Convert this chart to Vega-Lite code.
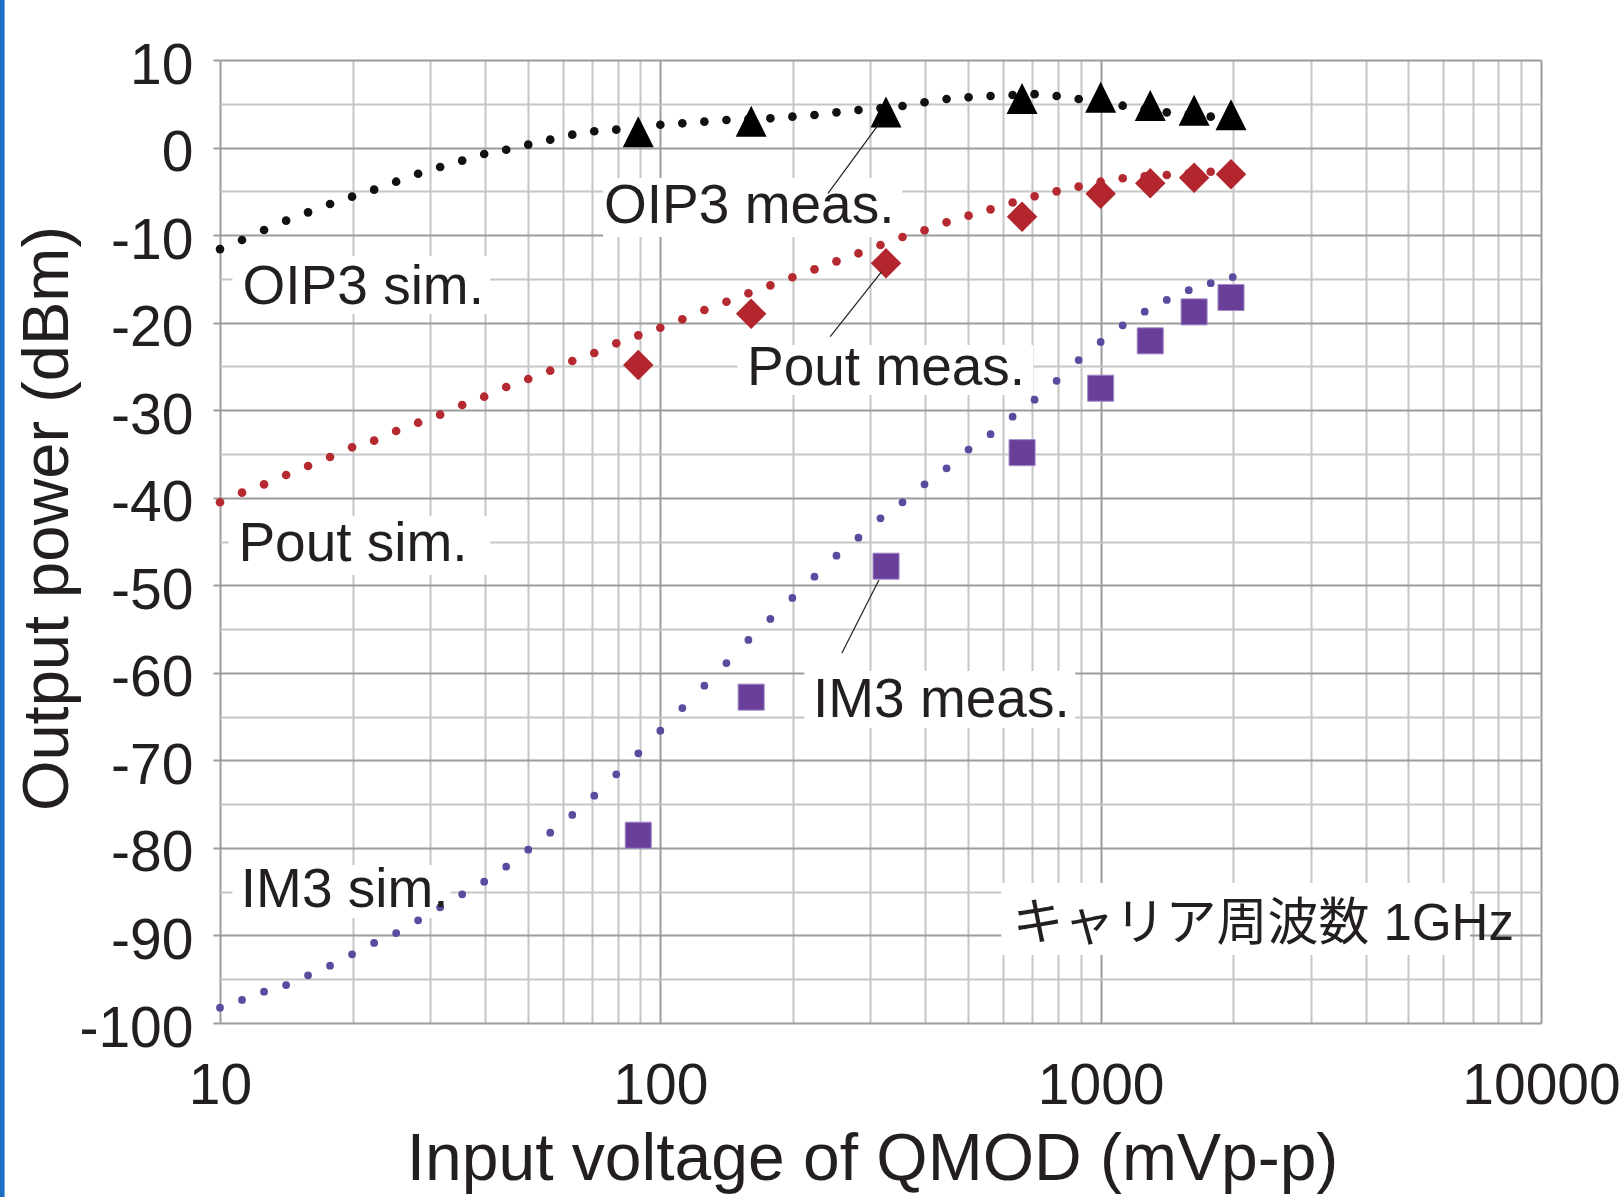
{
  "$schema": "https://vega.github.io/schema/vega-lite/v6.json",
  "width": 1321,
  "height": 963,
  "autosize": {"type": "none"},
  "padding": {"left": 220, "top": 60, "right": 83, "bottom": 174},
  "background": "white",
  "config": {
    "view": {"stroke": null},
    "axis": {"labelFont": "Liberation Sans", "titleFont": "Liberation Sans", "labelColor": "#231f20", "titleColor": "#231f20", "titleFontWeight": "normal"}
  },
  "datasets": {
    "sim": [
      {"v":10,"OIP3":-11.6,"Pout":-40.52,"IM3":-98.25},
      {"v":11.22,"OIP3":-10.56,"Pout":-39.42,"IM3":-97.37},
      {"v":12.59,"OIP3":-9.42,"Pout":-38.47,"IM3":-96.42},
      {"v":14.13,"OIP3":-8.35,"Pout":-37.4,"IM3":-95.66},
      {"v":15.85,"OIP3":-7.4,"Pout":-36.38,"IM3":-94.55},
      {"v":17.78,"OIP3":-6.45,"Pout":-35.35,"IM3":-93.45},
      {"v":19.95,"OIP3":-5.61,"Pout":-34.24,"IM3":-92.15},
      {"v":22.39,"OIP3":-4.81,"Pout":-33.48,"IM3":-90.86},
      {"v":25.12,"OIP3":-3.9,"Pout":-32.38,"IM3":-89.72},
      {"v":28.18,"OIP3":-2.99,"Pout":-31.43,"IM3":-88.27},
      {"v":31.62,"OIP3":-2.22,"Pout":-30.51,"IM3":-86.79},
      {"v":35.48,"OIP3":-1.5,"Pout":-29.41,"IM3":-85.3},
      {"v":39.81,"OIP3":-0.74,"Pout":-28.46,"IM3":-83.86},
      {"v":44.67,"OIP3":-0.25,"Pout":-27.35,"IM3":-82.15},
      {"v":50.12,"OIP3":0.33,"Pout":-26.44,"IM3":-80.2},
      {"v":56.23,"OIP3":0.9,"Pout":-25.49,"IM3":-78.26},
      {"v":63.1,"OIP3":1.47,"Pout":-24.38,"IM3":-76.24},
      {"v":70.79,"OIP3":1.86,"Pout":-23.47,"IM3":-74.04},
      {"v":79.43,"OIP3":2.04,"Pout":-22.36,"IM3":-71.59},
      {"v":89.13,"OIP3":2.3,"Pout":-21.45,"IM3":-69.19},
      {"v":100,"OIP3":2.6,"Pout":-20.58,"IM3":-66.61},
      {"v":112.2,"OIP3":2.77,"Pout":-19.62,"IM3":-64.02},
      {"v":125.9,"OIP3":2.96,"Pout":-18.56,"IM3":-61.47},
      {"v":141.3,"OIP3":3.15,"Pout":-17.61,"IM3":-58.88},
      {"v":158.5,"OIP3":3.25,"Pout":-16.65,"IM3":-56.25},
      {"v":177.8,"OIP3":3.34,"Pout":-15.74,"IM3":-53.85},
      {"v":199.5,"OIP3":3.53,"Pout":-14.82,"IM3":-51.45},
      {"v":223.9,"OIP3":3.72,"Pout":-13.91,"IM3":-49.02},
      {"v":251.2,"OIP3":4.02,"Pout":-13.0,"IM3":-46.62},
      {"v":281.8,"OIP3":4.29,"Pout":-12.08,"IM3":-44.56},
      {"v":316.2,"OIP3":4.5,"Pout":-11.13,"IM3":-42.35},
      {"v":354.8,"OIP3":4.75,"Pout":-10.22,"IM3":-40.52},
      {"v":398.1,"OIP3":5.17,"Pout":-9.46,"IM3":-38.47},
      {"v":446.7,"OIP3":5.55,"Pout":-8.54,"IM3":-36.64},
      {"v":501.2,"OIP3":5.74,"Pout":-7.78,"IM3":-34.5},
      {"v":562.3,"OIP3":5.89,"Pout":-7.06,"IM3":-32.74},
      {"v":631,"OIP3":6.0,"Pout":-6.28,"IM3":-30.75},
      {"v":707.9,"OIP3":6.1,"Pout":-5.57,"IM3":-28.8},
      {"v":794.3,"OIP3":5.89,"Pout":-5.0,"IM3":-26.64},
      {"v":891.3,"OIP3":5.55,"Pout":-4.47,"IM3":-24.27},
      {"v":1000,"OIP3":5.2,"Pout":-3.9,"IM3":-22.21},
      {"v":1122,"OIP3":4.78,"Pout":-3.51,"IM3":-20.3},
      {"v":1259,"OIP3":4.4,"Pout":-3.3,"IM3":-18.75},
      {"v":1413,"OIP3":4.02,"Pout":-3.14,"IM3":-17.41},
      {"v":1585,"OIP3":3.8,"Pout":-2.95,"IM3":-16.3},
      {"v":1778,"OIP3":3.53,"Pout":-2.76,"IM3":-15.5},
      {"v":1995,"OIP3":3.3,"Pout":-2.6,"IM3":-14.8}
    ],
    "meas": [
      {"v":89.1,"OIP3":1.8,"Pout":-24.84,"IM3":-78.55},
      {"v":160.8,"OIP3":3.0,"Pout":-18.99,"IM3":-62.78},
      {"v":325.5,"OIP3":4.06,"Pout":-13.23,"IM3":-47.82},
      {"v":663,"OIP3":5.6,"Pout":-7.9,"IM3":-34.85},
      {"v":1000,"OIP3":5.75,"Pout":-5.29,"IM3":-27.49},
      {"v":1296,"OIP3":4.8,"Pout":-4.09,"IM3":-22.08},
      {"v":1630,"OIP3":4.25,"Pout":-3.46,"IM3":-18.77},
      {"v":1977,"OIP3":3.75,"Pout":-3.06,"IM3":-17.13}
    ],
    "boxes": [
      {"v":10.67,"v2":41.1,"p":-12.39,"p2":-19.01},
      {"v":74.1,"v2":354.4,"p":-3.48,"p2":-10.22},
      {"v":10.45,"v2":41.1,"p":-42.09,"p2":-48.83},
      {"v":149.6,"v2":703,"p":-22.55,"p2":-28.27},
      {"v":212.3,"v2":875.6,"p":-59.8,"p2":-66.3},
      {"v":10.67,"v2":33.4,"p":-81.95,"p2":-88.0},
      {"v":594.8,"v2":6900,"p":-84.01,"p2":-92.23}
    ],
    "leaders": [
      {"v":240.3,"p":-5.23,"v2":314.3,"p2":2.77},
      {"v":243.1,"p":-21.6,"v2":318.1,"p2":-14.18},
      {"v":258.3,"p":-57.77,"v2":313.6,"p2":-49.4}
    ],
    "labels": [
      {"v":11.25,"p":-17.87,"label":"OIP3 sim."},
      {"v":74.5,"p":-8.58,"label":"OIP3 meas."},
      {"v":11.01,"p":-47.19,"label":"Pout sim."},
      {"v":157.3,"p":-27.12,"label":"Pout meas."},
      {"v":222.1,"p":-65.01,"label":"IM3 meas."},
      {"v":11.15,"p":-86.78,"label":"IM3 sim."}
    ],
    "note": [
      {"v":630.3,"p":-90.52,"label":"キャリア周波数 1GHz"}
    ],
    "strip": [
      {"v":3.2,"p":17,"p2":-120}
    ]
  },
  "layer": [
    {
      "data": {"name": "boxes"},
      "mark": {"type": "rect", "fill": "white", "stroke": null},
      "encoding": {
        "x": {"field": "v", "type": "quantitative", "title": "Input voltage of QMOD (mVp-p)",
          "scale": {"type": "log", "domain": [10, 10000], "nice": false},
          "axis": {
            "values": [10,20,30,40,50,60,70,80,90,100,200,300,400,500,600,700,800,900,1000,2000,3000,4000,5000,6000,7000,8000,9000,10000],
            "grid": true, "gridWidth": 2,
            "gridColor": {"condition": {"test": "indexof([10,100,1000,10000], datum.value) >= 0", "value": "#9c9c9c"}, "value": "#c6c6c6"},
            "ticks": false, "tickSize": 0, "domain": false,
            "labelExpr": "indexof([10,100,1000,10000], datum.value) >= 0 ? '' + datum.value : ''",
            "labelFontSize": 57, "labelPadding": 80, "labelBaseline": "alphabetic",
            "labelOverlap": false, "labelFlush": false,
            "titleFontSize": 66, "titleX": 652, "titleY": 156, "titleBaseline": "alphabetic", "titleAlign": "center"
          }
        },
        "x2": {"field": "v2"},
        "y": {"field": "p", "type": "quantitative", "title": "Output power (dBm)",
          "scale": {"domain": [-100, 10], "nice": false, "zero": false},
          "axis": {
            "values": [-100,-95,-90,-85,-80,-75,-70,-65,-60,-55,-50,-45,-40,-35,-30,-25,-20,-15,-10,-5,0,5,10],
            "grid": true, "gridWidth": 2,
            "gridColor": {"condition": {"test": "datum.value % 10 == 0", "value": "#9c9c9c"}, "value": "#c6c6c6"},
            "ticks": true, "tickSize": 7, "tickWidth": 2,
            "tickColor": {"condition": {"test": "datum.value % 10 == 0", "value": "#9c9c9c"}, "value": "rgba(0,0,0,0)"},
            "domain": false,
            "labelExpr": "datum.value % 10 == 0 ? '' + datum.value : ''",
            "labelFontSize": 57, "labelPadding": 20, "labelOffset": 6, "labelOverlap": false, "labelFlush": false,
            "titleFontSize": 65, "titleAngle": -90, "titleX": -153, "titleY": 458, "titleBaseline": "alphabetic", "titleAlign": "center"
          }
        },
        "y2": {"field": "p2"}
      }
    },
    {
      "data": {"name": "sim"},
      "mark": {"type": "point", "shape": "circle", "filled": true, "color": "#111111", "size": 75, "opacity": 1},
      "encoding": {
        "x": {"field": "v", "type": "quantitative", "title": "Input voltage of QMOD (mVp-p)", "scale": {"type": "log", "domain": [10, 10000], "nice": false}},
        "y": {"field": "OIP3", "type": "quantitative", "title": "Output power (dBm)", "scale": {"domain": [-100, 10], "nice": false, "zero": false}}
      }
    },
    {
      "data": {"name": "sim"},
      "mark": {"type": "point", "shape": "circle", "filled": true, "color": "#b52a30", "size": 75, "opacity": 1},
      "encoding": {
        "x": {"field": "v", "type": "quantitative", "title": "Input voltage of QMOD (mVp-p)", "scale": {"type": "log", "domain": [10, 10000], "nice": false}},
        "y": {"field": "Pout", "type": "quantitative", "title": "Output power (dBm)", "scale": {"domain": [-100, 10], "nice": false, "zero": false}}
      }
    },
    {
      "data": {"name": "sim"},
      "mark": {"type": "point", "shape": "circle", "filled": true, "color": "#574c9e", "size": 60, "opacity": 1},
      "encoding": {
        "x": {"field": "v", "type": "quantitative", "title": "Input voltage of QMOD (mVp-p)", "scale": {"type": "log", "domain": [10, 10000], "nice": false}},
        "y": {"field": "IM3", "type": "quantitative", "title": "Output power (dBm)", "scale": {"domain": [-100, 10], "nice": false, "zero": false}}
      }
    },
    {
      "data": {"name": "meas"},
      "mark": {"type": "point", "shape": "M0,-1L1,1L-1,1Z", "filled": true, "color": "#000000", "size": 961, "opacity": 1},
      "encoding": {
        "x": {"field": "v", "type": "quantitative", "title": "Input voltage of QMOD (mVp-p)", "scale": {"type": "log", "domain": [10, 10000], "nice": false}},
        "y": {"field": "OIP3", "type": "quantitative", "title": "Output power (dBm)", "scale": {"domain": [-100, 10], "nice": false, "zero": false}}
      }
    },
    {
      "data": {"name": "meas"},
      "mark": {"type": "point", "shape": "diamond", "filled": true, "color": "#b3262d", "size": 930, "opacity": 1},
      "encoding": {
        "x": {"field": "v", "type": "quantitative", "title": "Input voltage of QMOD (mVp-p)", "scale": {"type": "log", "domain": [10, 10000], "nice": false}},
        "y": {"field": "Pout", "type": "quantitative", "title": "Output power (dBm)", "scale": {"domain": [-100, 10], "nice": false, "zero": false}}
      }
    },
    {
      "data": {"name": "meas"},
      "mark": {"type": "point", "shape": "square", "filled": true, "fill": "#6a3f9a", "stroke": "#a48cc8", "strokeWidth": 1, "size": 680, "opacity": 1},
      "encoding": {
        "x": {"field": "v", "type": "quantitative", "title": "Input voltage of QMOD (mVp-p)", "scale": {"type": "log", "domain": [10, 10000], "nice": false}},
        "y": {"field": "IM3", "type": "quantitative", "title": "Output power (dBm)", "scale": {"domain": [-100, 10], "nice": false, "zero": false}}
      }
    },
    {
      "data": {"name": "leaders"},
      "mark": {"type": "rule", "color": "#231f20", "strokeWidth": 1.2},
      "encoding": {
        "x": {"field": "v", "type": "quantitative", "title": "Input voltage of QMOD (mVp-p)", "scale": {"type": "log", "domain": [10, 10000], "nice": false}},
        "x2": {"field": "v2"},
        "y": {"field": "p", "type": "quantitative", "title": "Output power (dBm)", "scale": {"domain": [-100, 10], "nice": false, "zero": false}},
        "y2": {"field": "p2"}
      }
    },
    {
      "data": {"name": "labels"},
      "mark": {"type": "text", "align": "left", "baseline": "alphabetic", "font": "Liberation Sans", "fontSize": 55, "color": "#231f20"},
      "encoding": {
        "x": {"field": "v", "type": "quantitative", "title": "Input voltage of QMOD (mVp-p)", "scale": {"type": "log", "domain": [10, 10000], "nice": false}},
        "y": {"field": "p", "type": "quantitative", "title": "Output power (dBm)", "scale": {"domain": [-100, 10], "nice": false, "zero": false}},
        "text": {"field": "label"}
      }
    },
    {
      "data": {"name": "note"},
      "mark": {"type": "text", "align": "left", "baseline": "alphabetic", "font": "Liberation Sans, Noto Sans CJK JP, sans-serif", "fontSize": 51, "color": "#231f20"},
      "encoding": {
        "x": {"field": "v", "type": "quantitative", "title": "Input voltage of QMOD (mVp-p)", "scale": {"type": "log", "domain": [10, 10000], "nice": false}},
        "y": {"field": "p", "type": "quantitative", "title": "Output power (dBm)", "scale": {"domain": [-100, 10], "nice": false, "zero": false}},
        "text": {"field": "label"}
      }
    },
    {
      "data": {"name": "strip"},
      "mark": {"type": "rule", "color": "#1b6ec2", "strokeWidth": 5},
      "encoding": {
        "x": {"field": "v", "type": "quantitative", "title": "Input voltage of QMOD (mVp-p)", "scale": {"type": "log", "domain": [10, 10000], "nice": false}},
        "y": {"field": "p", "type": "quantitative", "title": "Output power (dBm)", "scale": {"domain": [-100, 10], "nice": false, "zero": false}},
        "y2": {"field": "p2"}
      }
    }
  ]
}
